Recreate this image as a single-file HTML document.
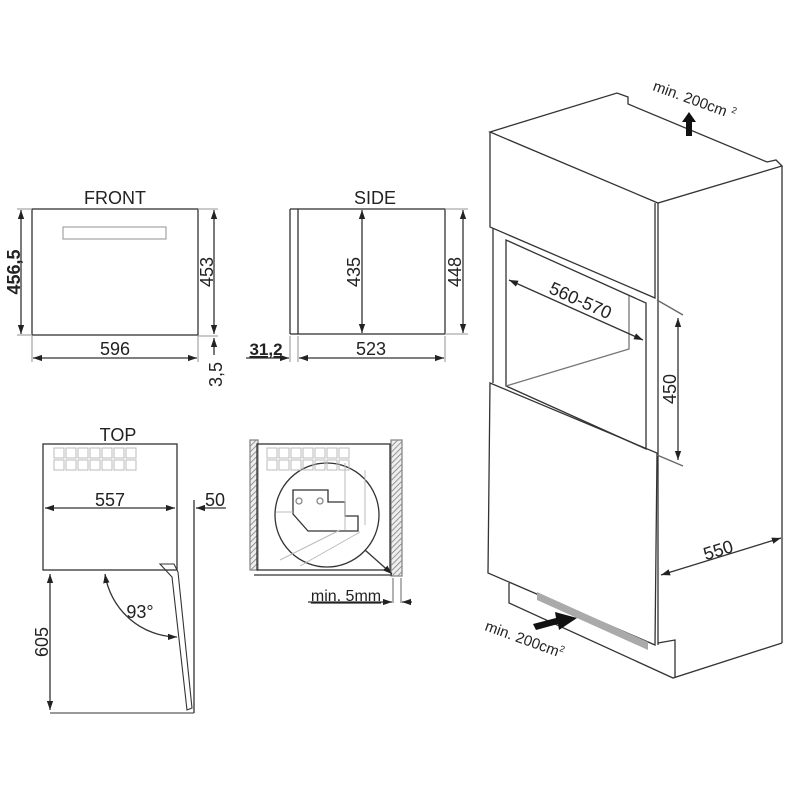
<!DOCTYPE html>
<html><head><meta charset="utf-8"><style>
html,body{margin:0;padding:0;background:#fff;}
svg{display:block;}
text{font-family:"Liberation Sans",sans-serif;fill:#222;}
</style></head><body>
<svg width="800" height="800" viewBox="0 0 800 800" xmlns="http://www.w3.org/2000/svg">
<defs>
<marker id="a" viewBox="0 0 10 10" refX="10" refY="5" markerWidth="7" markerHeight="7" orient="auto-start-reverse"><path d="M0,1.5 L10,5 L0,8.5 z" fill="#222"/></marker>
<pattern id="h" width="4" height="4" patternUnits="userSpaceOnUse" patternTransform="rotate(45)"><rect width="4" height="4" fill="#eee"/><line x1="0" y1="0" x2="0" y2="4" stroke="#777" stroke-width="1.5"/></pattern>
</defs>
<g stroke="#333" stroke-width="1.3" fill="none">
<!-- FRONT -->
<rect x="32" y="209" width="166" height="126"/>
<rect x="63" y="227" width="103" height="12" stroke="#aaa"/>
<line x1="21" y1="210" x2="21" y2="334" marker-start="url(#a)" marker-end="url(#a)"/>
<line x1="17" y1="209" x2="32" y2="209" stroke="#aaa"/>
<line x1="17" y1="335" x2="32" y2="335" stroke="#aaa"/>
<line x1="214" y1="210" x2="214" y2="334" marker-start="url(#a)" marker-end="url(#a)"/>
<line x1="198" y1="209" x2="218" y2="209" stroke="#aaa"/>
<line x1="198" y1="336" x2="218" y2="336" stroke="#aaa"/>
<line x1="214" y1="355" x2="214" y2="338" marker-end="url(#a)"/>
<line x1="33" y1="358" x2="197" y2="358" marker-start="url(#a)" marker-end="url(#a)"/>
<line x1="32" y1="336" x2="32" y2="362" stroke="#aaa"/>
<line x1="198" y1="336" x2="198" y2="362" stroke="#aaa"/>
<!-- SIDE -->
<rect x="298" y="209" width="147" height="125"/>
<line x1="290" y1="209" x2="290" y2="334"/>
<line x1="290" y1="209" x2="298" y2="209"/><line x1="290" y1="334" x2="298" y2="334"/>
<line x1="362" y1="210" x2="362" y2="333" marker-start="url(#a)" marker-end="url(#a)"/>
<line x1="463" y1="210" x2="463" y2="333" marker-start="url(#a)" marker-end="url(#a)"/>
<line x1="445" y1="209" x2="468" y2="209" stroke="#aaa"/>
<line x1="445" y1="334" x2="468" y2="334" stroke="#aaa"/>
<line x1="299" y1="358" x2="444" y2="358" marker-start="url(#a)" marker-end="url(#a)"/>
<line x1="290" y1="336" x2="290" y2="362" stroke="#aaa"/>
<line x1="298" y1="336" x2="298" y2="362" stroke="#aaa"/>
<line x1="445" y1="336" x2="445" y2="362" stroke="#aaa"/>
<line x1="246" y1="358" x2="289" y2="358" marker-end="url(#a)"/>
<!-- TOP -->
<rect x="43" y="444" width="134" height="126"/>
<line x1="45" y1="508" x2="175" y2="508" marker-start="url(#a)" marker-end="url(#a)"/>
<line x1="194" y1="500" x2="194" y2="713"/>
<line x1="226" y1="508" x2="196" y2="508" marker-end="url(#a)"/>
<path d="M160,564 L174,564 L178,572 L192,708 L187,710 L172,577 Z" stroke-width="1.1"/>
<line x1="50" y1="574" x2="50" y2="710" marker-start="url(#a)" marker-end="url(#a)"/>
<line x1="50" y1="713" x2="194" y2="713" stroke-width="1"/>
<path d="M105,574 A74,74 0 0 0 177,637" marker-start="url(#a)" marker-end="url(#a)"/>
<!-- TOP installed -->
<rect x="250" y="440" width="8" height="130" fill="url(#h)" stroke="#888"/>
<rect x="391" y="440" width="11" height="136" fill="url(#h)" stroke="#888"/>
<rect x="257" y="444" width="133" height="126"/>
<line x1="254" y1="575" x2="392" y2="575"/>
<circle cx="327" cy="515" r="52"/>
<path d="M293,490 L328,490 L328,502 L345,502 L345,516 L358,516 L358,531 L308,531 L293,514 Z" stroke-width="1.3"/>
<circle cx="299" cy="501" r="3" stroke="#888"/><circle cx="320" cy="501" r="3" stroke="#888"/>
<g stroke="#bbb" stroke-width="1"><line x1="345" y1="463" x2="345" y2="530"/><line x1="365" y1="470" x2="365" y2="525"/><line x1="280" y1="560" x2="340" y2="530"/><line x1="300" y1="566" x2="360" y2="532"/><line x1="276" y1="512" x2="293" y2="512"/></g>
<line x1="365" y1="550" x2="392" y2="574" marker-end="url(#a)"/>
<line x1="393" y1="578" x2="393" y2="603" stroke="#888"/><line x1="401" y1="578" x2="401" y2="603" stroke="#888"/>
<line x1="308" y1="602" x2="392" y2="602" marker-end="url(#a)"/>
<line x1="412" y1="602" x2="402" y2="602" marker-end="url(#a)"/>
<!-- CABINET -->
<path d="M490,132 L617,93 L628,97 L628,104 L767,162 L776,160 L782,166 L658,203 Z"/>
<path d="M490,132 L490,227 L655,298 L655,203"/>
<line x1="658" y1="203" x2="658" y2="645"/>
<line x1="782" y1="166" x2="782" y2="643"/>
<line x1="493" y1="228" x2="493" y2="383"/>
<path d="M506,386 L506,240 L646,303 L646,449 Z"/>
<path d="M506,386 L629,349 L629,296" stroke="#777"/>
<path d="M490,383 L657,453 L655,645 L488,573 Z"/>
<path d="M509,583 L509,603 L673,678 L782,643"/>
<path d="M658,643 L675,640 L675,678"/>
<path d="M537,592 L648,642 L648,650 L537,600 Z" fill="#aaa" stroke="none"/>
<line x1="657" y1="300" x2="683" y2="315" stroke="#666"/>
<line x1="657" y1="455" x2="683" y2="466" stroke="#666"/>
<line x1="678" y1="318" x2="678" y2="460" marker-start="url(#a)" marker-end="url(#a)"/>
<line x1="509" y1="280" x2="643" y2="340" marker-start="url(#a)" marker-end="url(#a)"/>
<line x1="661" y1="575" x2="781" y2="538" marker-start="url(#a)" marker-end="url(#a)"/>
</g>
<!-- grids -->
<g fill="none" stroke="#bbb" stroke-width="1">
<g id="g1">
<rect x="54" y="448" width="10" height="10"/><rect x="66" y="448" width="10" height="10"/><rect x="78" y="448" width="10" height="10"/><rect x="90" y="448" width="10" height="10"/><rect x="102" y="448" width="10" height="10"/><rect x="114" y="448" width="10" height="10"/><rect x="126" y="448" width="10" height="10"/>
<rect x="54" y="460" width="10" height="10"/><rect x="66" y="460" width="10" height="10"/><rect x="78" y="460" width="10" height="10"/><rect x="90" y="460" width="10" height="10"/><rect x="102" y="460" width="10" height="10"/><rect x="114" y="460" width="10" height="10"/><rect x="126" y="460" width="10" height="10"/>
</g>
<use href="#g1" x="213"/>
</g>
<!-- arrows fat -->
<path d="M686,136 L686,122 L682,122 L689,112 L696,122 L692,122 L692,136 Z" fill="#111"/>
<path d="M533,624 L556,618 L555,612 L577,618 L559,630 L558,624 L536,630 Z" fill="#111"/>
<!-- text -->
<text x="115" y="204" font-size="18" text-anchor="middle">FRONT</text>
<text x="375" y="204" font-size="18" text-anchor="middle">SIDE</text>
<text x="118" y="441" font-size="18" text-anchor="middle">TOP</text>
<text x="115" y="355" font-size="18" text-anchor="middle">596</text>
<text x="371" y="355" font-size="18" text-anchor="middle">523</text>
<text x="266" y="355" font-size="17" text-anchor="middle" font-weight="bold" text-decoration="underline">31,2</text>
<text x="110" y="506" font-size="18" text-anchor="middle">557</text>
<text x="215" y="506" font-size="18" text-anchor="middle">50</text>
<text x="140" y="618" font-size="18" text-anchor="middle">93°</text>
<text x="346" y="601" font-size="16" text-anchor="middle" text-decoration="underline">min. 5mm</text>
<text transform="translate(20,272) rotate(-90)" font-size="18" text-anchor="middle" font-weight="bold">456,5</text>
<text transform="translate(213,272) rotate(-90)" font-size="18" text-anchor="middle">453</text>
<text transform="translate(222,362) rotate(-90)" font-size="18" text-anchor="end">3,5</text>
<text transform="translate(360,272) rotate(-90)" font-size="18" text-anchor="middle">435</text>
<text transform="translate(461,272) rotate(-90)" font-size="18" text-anchor="middle">448</text>
<text transform="translate(48,642) rotate(-90)" font-size="18" text-anchor="middle">605</text>
<text transform="translate(676,389) rotate(-90)" font-size="18" text-anchor="middle">450</text>
<text transform="translate(578,306) rotate(24)" font-size="18" text-anchor="middle">560-570</text>
<text transform="translate(720,556) rotate(-17)" font-size="18" text-anchor="middle">550</text>
<text transform="translate(652,90) rotate(20)" font-size="15">min. 200cm <tspan font-size="9" dy="-6">2</tspan></text>
<text transform="translate(484,630) rotate(20)" font-size="15">min. 200cm<tspan font-size="9" dy="-6">2</tspan></text>
</svg>
</body></html>
